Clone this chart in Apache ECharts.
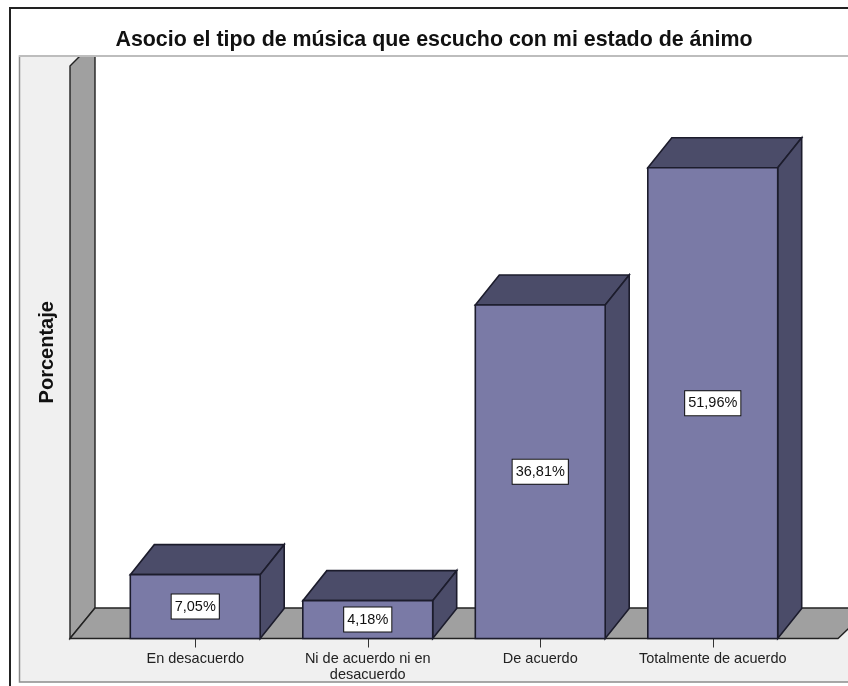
<!DOCTYPE html>
<html>
<head>
<meta charset="utf-8">
<style>html,body{margin:0;padding:0;background:#fff}#chart{width:848px;height:686px}</style>
<script src="https://cdn.jsdelivr.net/npm/echarts@6/dist/echarts.min.js"></script>
</head>
<body>
<div id="chart"></div>
<script>
var titleText = 'Asocio el tipo de música que escucho con mi estado de ánimo'
var yName = 'Porcentaje'
var categories = ['En desacuerdo', 'Ni de acuerdo ni en\ndesacuerdo', 'De acuerdo', 'Totalmente de acuerdo']
var percentages = [7.05, 4.18, 36.81, 51.96]

var FONT = '"Liberation Sans", Arial, sans-serif'
var DEPTH_X = 24
var DEPTH_Y = 30
var FLOOR_Y = 638.5

function renderBar(params, api) {
  var base = api.coord([api.value(0), 0])
  var top = api.coord([api.value(0), api.value(1)])
  var w = api.size([1, 0])[0] * 0.753
  var x0 = base[0] - w / 2
  var x1 = base[0] + w / 2
  var y0 = top[1]
  var y1 = base[1]
  var edge = { stroke: '#1c1c2c', lineWidth: 1.6 }
  return {
    type: 'group',
    children: [
      {
        type: 'polygon',
        shape: { points: [[x0, y0], [x0 + DEPTH_X, y0 - DEPTH_Y], [x1 + DEPTH_X, y0 - DEPTH_Y], [x1, y0]] },
        style: Object.assign({ fill: '#4b4c69' }, edge)
      },
      {
        type: 'polygon',
        shape: { points: [[x1, y0], [x1 + DEPTH_X, y0 - DEPTH_Y], [x1 + DEPTH_X, y1 - DEPTH_Y], [x1, y1]] },
        style: Object.assign({ fill: '#4b4c69' }, edge)
      },
      {
        type: 'rect',
        shape: { x: x0, y: y0, width: w, height: y1 - y0 },
        style: Object.assign({ fill: '#7a7aa6' }, edge)
      },
      {
        type: 'text',
        style: {
          text: api.value(1).toFixed(2).replace('.', ',') + '%',
          x: base[0],
          y: (y0 + y1) / 2,
          align: 'center',
          verticalAlign: 'middle',
          font: '14.5px ' + FONT,
          fill: '#111',
          backgroundColor: '#fff',
          borderColor: '#111',
          borderWidth: 1,
          padding: [5, 3, 4, 3]
        }
      }
    ]
  }
}

var chart = echarts.init(document.getElementById('chart'))

var option = {
  animation: false,
  backgroundColor: '#fff',
  title: {
    text: titleText,
    left: 429,
    top: 25,
    textAlign: 'center',
    textStyle: { fontFamily: FONT, fontSize: 21.4, fontWeight: 'bold', color: '#111' }
  },
  grid: { left: 109, right: 49, top: 66, bottom: 47.5 },
  xAxis: {
    type: 'category',
    data: categories,
    axisLine: { show: false },
    axisTick: { show: true, alignWithLabel: true, length: 9, lineStyle: { color: '#333', width: 1 } },
    axisLabel: { color: '#222', fontFamily: FONT, fontSize: 14.5, lineHeight: 15.5, margin: 13, interval: 0 }
  },
  yAxis: {
    type: 'value',
    min: 0,
    max: 63.2,
    name: yName,
    nameLocation: 'middle',
    nameGap: 52,
    nameTextStyle: { fontFamily: FONT, fontSize: 20, fontWeight: 'bold', color: '#111' },
    axisLine: { show: false },
    axisTick: { show: false },
    axisLabel: { show: false },
    splitLine: { show: false }
  },
  graphic: [
    { type: 'rect', z: 0, shape: { x: 10, y: 8, width: 860, height: 700 }, style: { fill: '#fff', stroke: '#222', lineWidth: 2 } },
    { type: 'rect', z: 0, shape: { x: 19.5, y: 56, width: 860, height: 626 }, style: { fill: '#f0f0f0', stroke: '#8c8c8c', lineWidth: 1.5 } },
    { type: 'polygon', z: 0, shape: { points: [[95, 56.5], [849, 56.5], [849, 608], [95, 608]] }, style: { fill: '#fff' } },
    // left wall, its top is hidden by the rule below
    { type: 'polygon', z: 1, shape: { points: [[70, 66], [80, 56], [95, 56], [95, 608], [70, FLOOR_Y]] }, style: { fill: '#a0a0a0', stroke: '#222', lineWidth: 1.4 } },
    // floor
    { type: 'polygon', z: 1, shape: { points: [[70, FLOOR_Y], [95, 608], [870, 608], [838, FLOOR_Y]] }, style: { fill: '#a0a0a0', stroke: '#222', lineWidth: 1.4 } },
    { type: 'line', z: 2, shape: { x1: 19, y1: 56, x2: 848, y2: 56 }, style: { stroke: '#bdbdbd', lineWidth: 2 } }
  ],
  series: [
    {
      type: 'custom',
      z: 5,
      clip: false,
      renderItem: renderBar,
      encode: { x: 0, y: 1 },
      data: percentages.map(function (v, i) { return [i, v] })
    }
  ]
}

chart.setOption(option)
</script>
</body>
</html>
